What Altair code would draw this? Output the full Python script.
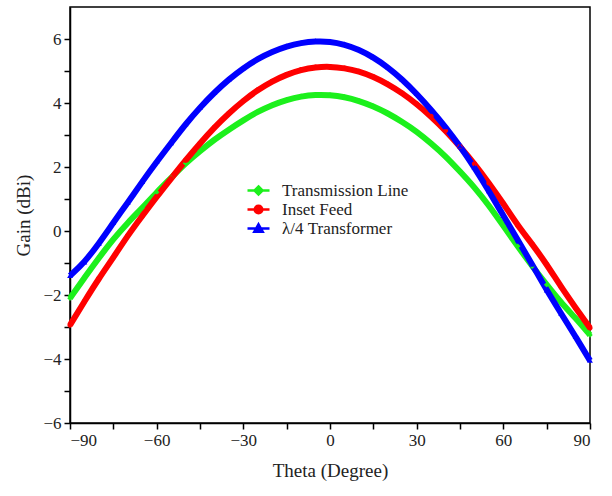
import altair as alt
import pandas as pd

theta = [-90, -85, -80, -75, -70, -65, -60, -55, -50, -45, -40, -35, -30, -25, -20, -15, -10, -5,
         0, 5, 10, 15, 20, 25, 30, 35, 40, 45, 50, 55, 60, 65, 70, 75, 80, 85, 90]

transmission_line = [-2.10, -1.46, -0.84, -0.25, 0.26, 0.72, 1.21, 1.66, 2.12, 2.50, 2.86, 3.17, 3.46,
                     3.73, 3.94, 4.10, 4.21, 4.26, 4.25, 4.19, 4.07, 3.90, 3.68, 3.41, 3.11, 2.74,
                     2.34, 1.86, 1.37, 0.80, 0.16, -0.48, -1.10, -1.68, -2.24, -2.72, -3.25]

inset_feed = [-2.94, -2.20, -1.48, -0.83, -0.14, 0.47, 1.07, 1.64, 2.21, 2.74, 3.24, 3.68, 4.07,
              4.41, 4.68, 4.89, 5.04, 5.12, 5.14, 5.09, 4.99, 4.82, 4.59, 4.31, 3.97, 3.58,
              3.14, 2.64, 2.10, 1.50, 0.86, 0.17, -0.41, -1.04, -1.75, -2.40, -3.03]

quarter_wave = [-1.40, -0.98, -0.39, 0.26, 0.89, 1.54, 2.16, 2.75, 3.34, 3.86, 4.33, 4.74, 5.09,
                5.38, 5.60, 5.77, 5.88, 5.93, 5.92, 5.83, 5.67, 5.43, 5.12, 4.74, 4.29, 3.79,
                3.25, 2.65, 1.98, 1.25, 0.48, -0.28, -1.05, -1.85, -2.58, -3.30, -4.05]

series_names = ["Transmission Line", "Inset Feed", "λ/4 Transformer"]
series_colors = ["#1cf01c", "#ff0000", "#0000ff"]
legend_shapes = [
    "M-2.75,0H2.75M0,-1L1,0L0,1L-1,0Z",
    "M-2.75,0H2.75M-0.95,0A0.95,0.95,0,1,0,0.95,0A0.95,0.95,0,1,0,-0.95,0Z",
    "M-2.75,0H2.75M0,-1.05L1.05,0.8L-1.05,0.8Z",
]

x_ticks = [-90, -75, -60, -45, -30, -15, 0, 15, 30, 45, 60, 75, 90]
y_ticks = [-6, -5, -4, -3, -2, -1, 0, 1, 2, 3, 4, 5, 6]

rows = []
for name, vals in zip(series_names, [transmission_line, inset_feed, quarter_wave]):
    for t, g in zip(theta, vals):
        rows.append({"theta": t, "gain": g, "series": name})
df = pd.DataFrame(rows)

font = "Liberation Serif"

x_enc = alt.X("theta:Q", scale=alt.Scale(domain=[-90, 90], nice=False, zero=False),
              axis=alt.Axis(title="Theta (Degree)", values=x_ticks,
                            labelExpr="datum.value % 30 == 0 ? datum.label : ''",
                            titlePadding=13))
y_enc = alt.Y("gain:Q", scale=alt.Scale(domain=[-6, 7], nice=False, zero=False),
              axis=alt.Axis(title="Gain (dBi)", values=y_ticks,
                            labelExpr="datum.value % 2 == 0 ? datum.label : ''",
                            titlePadding=9))

color_scale = alt.Scale(domain=series_names, range=series_colors)

lines = alt.Chart(df).mark_line(strokeWidth=6, interpolate="basis").encode(
    x=x_enc,
    y=y_enc,
    color=alt.Color("series:N", scale=color_scale,
                    legend=alt.Legend(title=None, orient="none", legendX=180, legendY=175,
                                      symbolSize=64, labelOffset=15, rowPadding=0,
                                      symbolStrokeWidth=2.5,
                                      symbolFillColor="transparent")),
    shape=alt.Shape("series:N", scale=alt.Scale(domain=series_names, range=legend_shapes)),
)

chart = lines.properties(
    width=520,
    height=416,
    autosize=alt.AutoSizeParams(type="none"),
    padding={"left": 70, "top": 7, "right": 22, "bottom": 73},
).configure_view(
    stroke="black", strokeWidth=1.5
).configure_axis(
    domainColor="black", domainWidth=1.5, tickColor="black", tickWidth=1.5, tickSize=6,
    labelFont=font, labelFontSize=17, labelColor="#222222", labelPadding=3,
    titleFont=font, titleFontSize=19, titleFontWeight="normal", titleColor="#222222",
    grid=False,
).configure_legend(
    labelFont=font, labelFontSize=17, labelColor="#222222",
)

chart.save("out.html", embed_options={"renderer": "svg", "actions": False})
